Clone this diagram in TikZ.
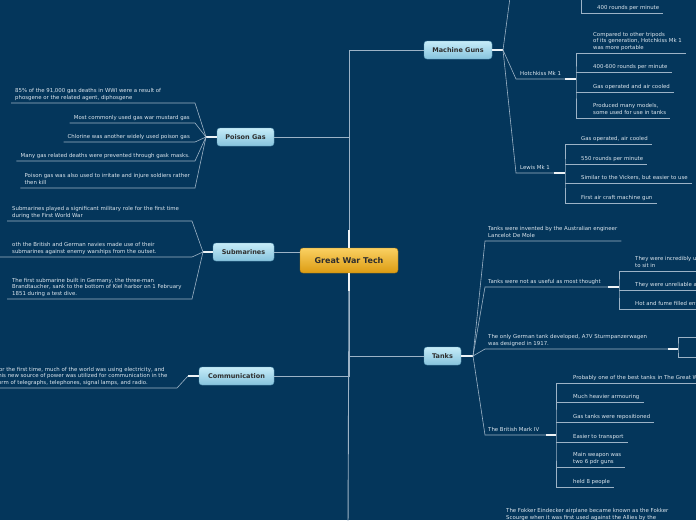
\documentclass[tikz,border=0pt]{standalone}
\usepackage{fontspec}
\setmainfont{DejaVu Sans}
\definecolor{bgblue}{HTML}{04365B}
\definecolor{lineblue}{HTML}{9DB3C6}
\definecolor{stemwhite}{HTML}{EEF3F6}
\definecolor{leaftext}{HTML}{DCE6EE}
\definecolor{topictop}{HTML}{C6ECF8}
\definecolor{topicbot}{HTML}{86C3DD}
\definecolor{topicline}{HTML}{5F9DBA}
\definecolor{topictext}{HTML}{2E2E2E}
\definecolor{coretop}{HTML}{FAD062}
\definecolor{corebot}{HTML}{DC9C12}
\definecolor{coreline}{HTML}{B07A10}
\tikzset{
  topic/.style={draw=topicline,rounded corners=3pt,top color=topictop,bottom color=topicbot,
    text=topictext,font=\bfseries\fontsize{6.5}{8}\selectfont,minimum height=18pt,inner xsep=5pt,inner ysep=0pt},
  core/.style={topic,draw=coreline,top color=coretop,bottom color=corebot,
    font=\bfseries\fontsize{8}{10}\selectfont,minimum height=25pt,minimum width=98pt},
  leaf/.style={text=leaftext,font=\fontsize{5.4}{6.6}\selectfont,align=left,inner xsep=0pt,
    inner ysep=1.3pt,anchor=south west,execute at end node=\strut}
}
\begin{document}
\begin{tikzpicture}[x=1pt,y=-1pt,
  ul/.style={draw=lineblue,line width=0.6pt},
  trunk/.style={draw=lineblue,line width=0.9pt},
  stem/.style={draw=stemwhite,line width=1.6pt}]
  \useasboundingbox (0,0) rectangle (696,520);
  \fill[bgblue] (0,0) rectangle (696,520);
  \clip (0,0) rectangle (696,520);

  \node[core] (ct) at (349,260.5) {Great War Tech};
  \node[topic,minimum width=68pt] (mg) at (458,50) {Machine Guns};
  \node[topic,minimum width=37pt] (tk) at (442.5,356) {Tanks};
  \node[topic,minimum width=57pt] (pg) at (245.5,137) {Poison Gas};
  \node[topic,minimum width=61pt] (sb) at (243.5,252) {Submarines};
  \node[topic,minimum width=75pt] (cm) at (236.5,376) {Communication};
  \coordinate (ab) at (348,530);

  \draw[trunk] (mg.west) -| (ct.north);
  \draw[trunk] (pg.east) -| (ct.north);
  \draw[trunk] (tk.west) -| (ct.south);
  \draw[trunk] (cm.east) -| (ct.south);
  \draw[trunk] (ct.south) -- (ab);
  \draw[trunk] (sb.east) -- (sb.east -| ct.west);
  \draw[stem] (ct.north) -- ++(0,-18);
  \draw[stem] (ct.south) -- ++(0,18);

  \coordinate (mgj) at (503,50);
  \coordinate (vk) at (513,-25);
  \coordinate (vj) at (581,-25);
  \coordinate (hj) at (576,79);
  \coordinate (lj) at (565,173);
  \draw[stem] (mg.east) -- (mgj);
  \draw[ul] (mgj) -- (vk);
  \node[leaf] (r4) at (597,13) {400 rounds per minute};
  \draw[ul] (vj) |- ([xshift=4pt]r4.south east);

  \node[leaf] (hk) at (520,79) {Hotchkiss Mk 1};
  \draw[ul] (mgj) -- ([xshift=-4pt]hk.south west) -- ([xshift=-11pt]hj);
  \draw[stem] ([xshift=-11pt]hj) -- (hj);
  \node[leaf] (h1) at (593,53) {Compared to other tripods\\of its generation, Hotchkiss Mk 1\\was more portable};
  \node[leaf] (h2) at (593,72) {400-600 rounds per minute};
  \node[leaf] (h3) at (593,92) {Gas operated and air cooled};
  \node[leaf] (h4) at (593,118) {Produced many models,\\some used for use in tanks};
  \draw[ul] ([xshift=4pt]h1.south east) -| (hj) |- ([xshift=4pt]h4.south east);
  \draw[ul] (hj |- h2.south) -- ([xshift=4pt]h2.south east);
  \draw[ul] (hj |- h3.south) -- ([xshift=4pt]h3.south east);

  \node[leaf] (lw) at (520,173) {Lewis Mk 1};
  \draw[ul] (mgj) -- ([xshift=-4pt]lw.south west) -- ([xshift=-11pt]lj);
  \draw[stem] ([xshift=-11pt]lj) -- (lj);
  \node[leaf] (l1) at (581,144) {Gas operated, air cooled};
  \node[leaf] (l2) at (581,164) {550 rounds per minute};
  \node[leaf] (l3) at (581,183) {Similar to the Vickers, but easier to use};
  \node[leaf] (l4) at (581,203) {First air craft machine gun};
  \draw[ul] ([xshift=4pt]l1.south east) -| (lj) |- ([xshift=4pt]l4.south east);
  \draw[ul] (lj |- l2.south) -- ([xshift=4pt]l2.south east);
  \draw[ul] (lj |- l3.south) -- ([xshift=4pt]l3.south east);

  \coordinate (tkj) at (473,356);
  \coordinate (t2j) at (619,287);
  \coordinate (t3j) at (678,349);
  \coordinate (t4j) at (556,435);
  \coordinate (g1) at (710,337);
  \coordinate (g2) at (710,357);
  \draw[stem] (tk.east) -- (tkj);
  \node[leaf] (t1) at (488,241) {Tanks were invented by the Australian engineer\\Lancelot De Mole};
  \draw[ul] (tkj) -- ([xshift=-3pt]t1.south west) -- ([xshift=4pt]t1.south east);
  \node[leaf] (t2) at (488,287) {Tanks were not as useful as most thought};
  \draw[ul] (tkj) -- ([xshift=-3pt]t2.south west) -- ([xshift=-11pt]t2j);
  \draw[stem] ([xshift=-11pt]t2j) -- (t2j);
  \node[leaf] (u1) at (635,271) {They were incredibly uncomfortable\\to sit in};
  \node[leaf] (u2) at (635,290) {They were unreliable and slow};
  \node[leaf] (u3) at (635,309) {Hot and fume filled environment};
  \draw[ul] ([xshift=4pt]u1.south east) -| (t2j) |- ([xshift=4pt]u3.south east);
  \draw[ul] (t2j |- u2.south) -- ([xshift=4pt]u2.south east);
  \node[leaf] (t3) at (488,349) {The only German tank developed, A7V Sturmpanzerwagen\\was designed in 1917.};
  \draw[ul] (tkj) -- ([xshift=-3pt]t3.south west) -- ([xshift=-10pt]t3j);
  \draw[stem] ([xshift=-10pt]t3j) -- (t3j);
  \draw[ul] (g1) -| (t3j) |- (g2);
  \node[leaf] (t4) at (488,435) {The British Mark IV};
  \draw[ul] (tkj) -- ([xshift=-3pt]t4.south west) -- ([xshift=-10pt]t4j);
  \draw[stem] ([xshift=-10pt]t4j) -- (t4j);
  \node[leaf] (b1) at (573,383) {Probably one of the best tanks in The Great War};
  \node[leaf] (b2) at (573,402) {Much heavier armouring};
  \node[leaf] (b3) at (573,422) {Gas tanks were repositioned};
  \node[leaf] (b4) at (573,442) {Easier to transport};
  \node[leaf] (b5) at (573,467) {Main weapon was\\two 6 pdr guns};
  \node[leaf] (b6) at (573,487) {held 8 people};
  \draw[ul] ([xshift=4pt]b1.south east) -| (t4j) |- ([xshift=4pt]b6.south east);
  \draw[ul] (t4j |- b2.south) -- ([xshift=4pt]b2.south east);
  \draw[ul] (t4j |- b3.south) -- ([xshift=4pt]b3.south east);
  \draw[ul] (t4j |- b4.south) -- ([xshift=4pt]b4.south east);
  \draw[ul] (t4j |- b5.south) -- ([xshift=4pt]b5.south east);
  \node[leaf,anchor=north west] (fk) at (506,507) {The Fokker Eindecker airplane became known as the Fokker\\Scourge when it was first used against the Allies by the};

  \coordinate (pgj) at (206,137);
  \coordinate (pgx) at (195,137);
  \draw[stem] (pg.west) -- (pgj);
  \node[leaf] (p1) at (15,103) {85\% of the 91,000 gas deaths in WWI were a result of\\phosgene or the related agent, diphosgene};
  \node[leaf,anchor=south east] (p2) at (190,123) {Most commonly used gas war mustard gas};
  \node[leaf,anchor=south east] (p3) at (190,142) {Chlorine was another widely used poison gas};
  \node[leaf,anchor=south east] (p4) at (190,161) {Many gas related deaths were prevented through gask masks.};
  \node[leaf,anchor=south east] (p5) at (190,188) {Poison gas was also used to irritate and injure soldiers rather\\then kill};
  \draw[ul] ([xshift=-4pt]p1.south west) -- (p1.south -| pgx) -- (pgj);
  \draw[ul] ([xshift=-4pt]p2.south west) -- (p2.south -| pgx) -- (pgj);
  \draw[ul] ([xshift=-4pt]p3.south west) -- (p3.south -| pgx) -- (pgj);
  \draw[ul] ([xshift=-4pt]p4.south west) -- (p4.south -| pgx) -- (pgj);
  \draw[ul] ([xshift=-4pt]p5.south west) -- (p5.south -| pgx) -- (pgj);

  \coordinate (sbj) at (203,252);
  \coordinate (sbx) at (192,252);
  \draw[stem] (sb.west) -- (sbj);
  \node[leaf] (s1) at (12,221) {Submarines played a significant military role for the first time\\during the First World War};
  \node[leaf] (s2) at (12,257) {oth the British and German navies made use of their\\submarines against enemy warships from the outset.};
  \node[leaf] (s3) at (12,299) {The first submarine built in Germany, the three-man\\Brandtaucher, sank to the bottom of Kiel harbor on 1 February\\1851 during a test dive.};
  \draw[ul] ([xshift=-5pt]s1.south west) -- (s1.south -| sbx) -- (sbj);
  \draw[ul] ([xshift=-12pt]s2.south west) -- (s2.south -| sbx) -- (sbj);
  \draw[ul] ([xshift=-5pt]s3.south west) -- (s3.south -| sbx) -- (sbj);

  \coordinate (cmj) at (188,376);
  \coordinate (cmx) at (177,388);
  \draw[stem] (cm.west) -- (cmj);
  \node[leaf] (c1) at (-4,388) {For the first time, much of the world was using electricity, and\\this new source of power was utilized for communication in the\\form of telegraphs, telephones, signal lamps, and radio.};
  \draw[ul] ([xshift=-4pt]c1.south west) -- (cmx) -- (cmj);
\end{tikzpicture}
\end{document}
